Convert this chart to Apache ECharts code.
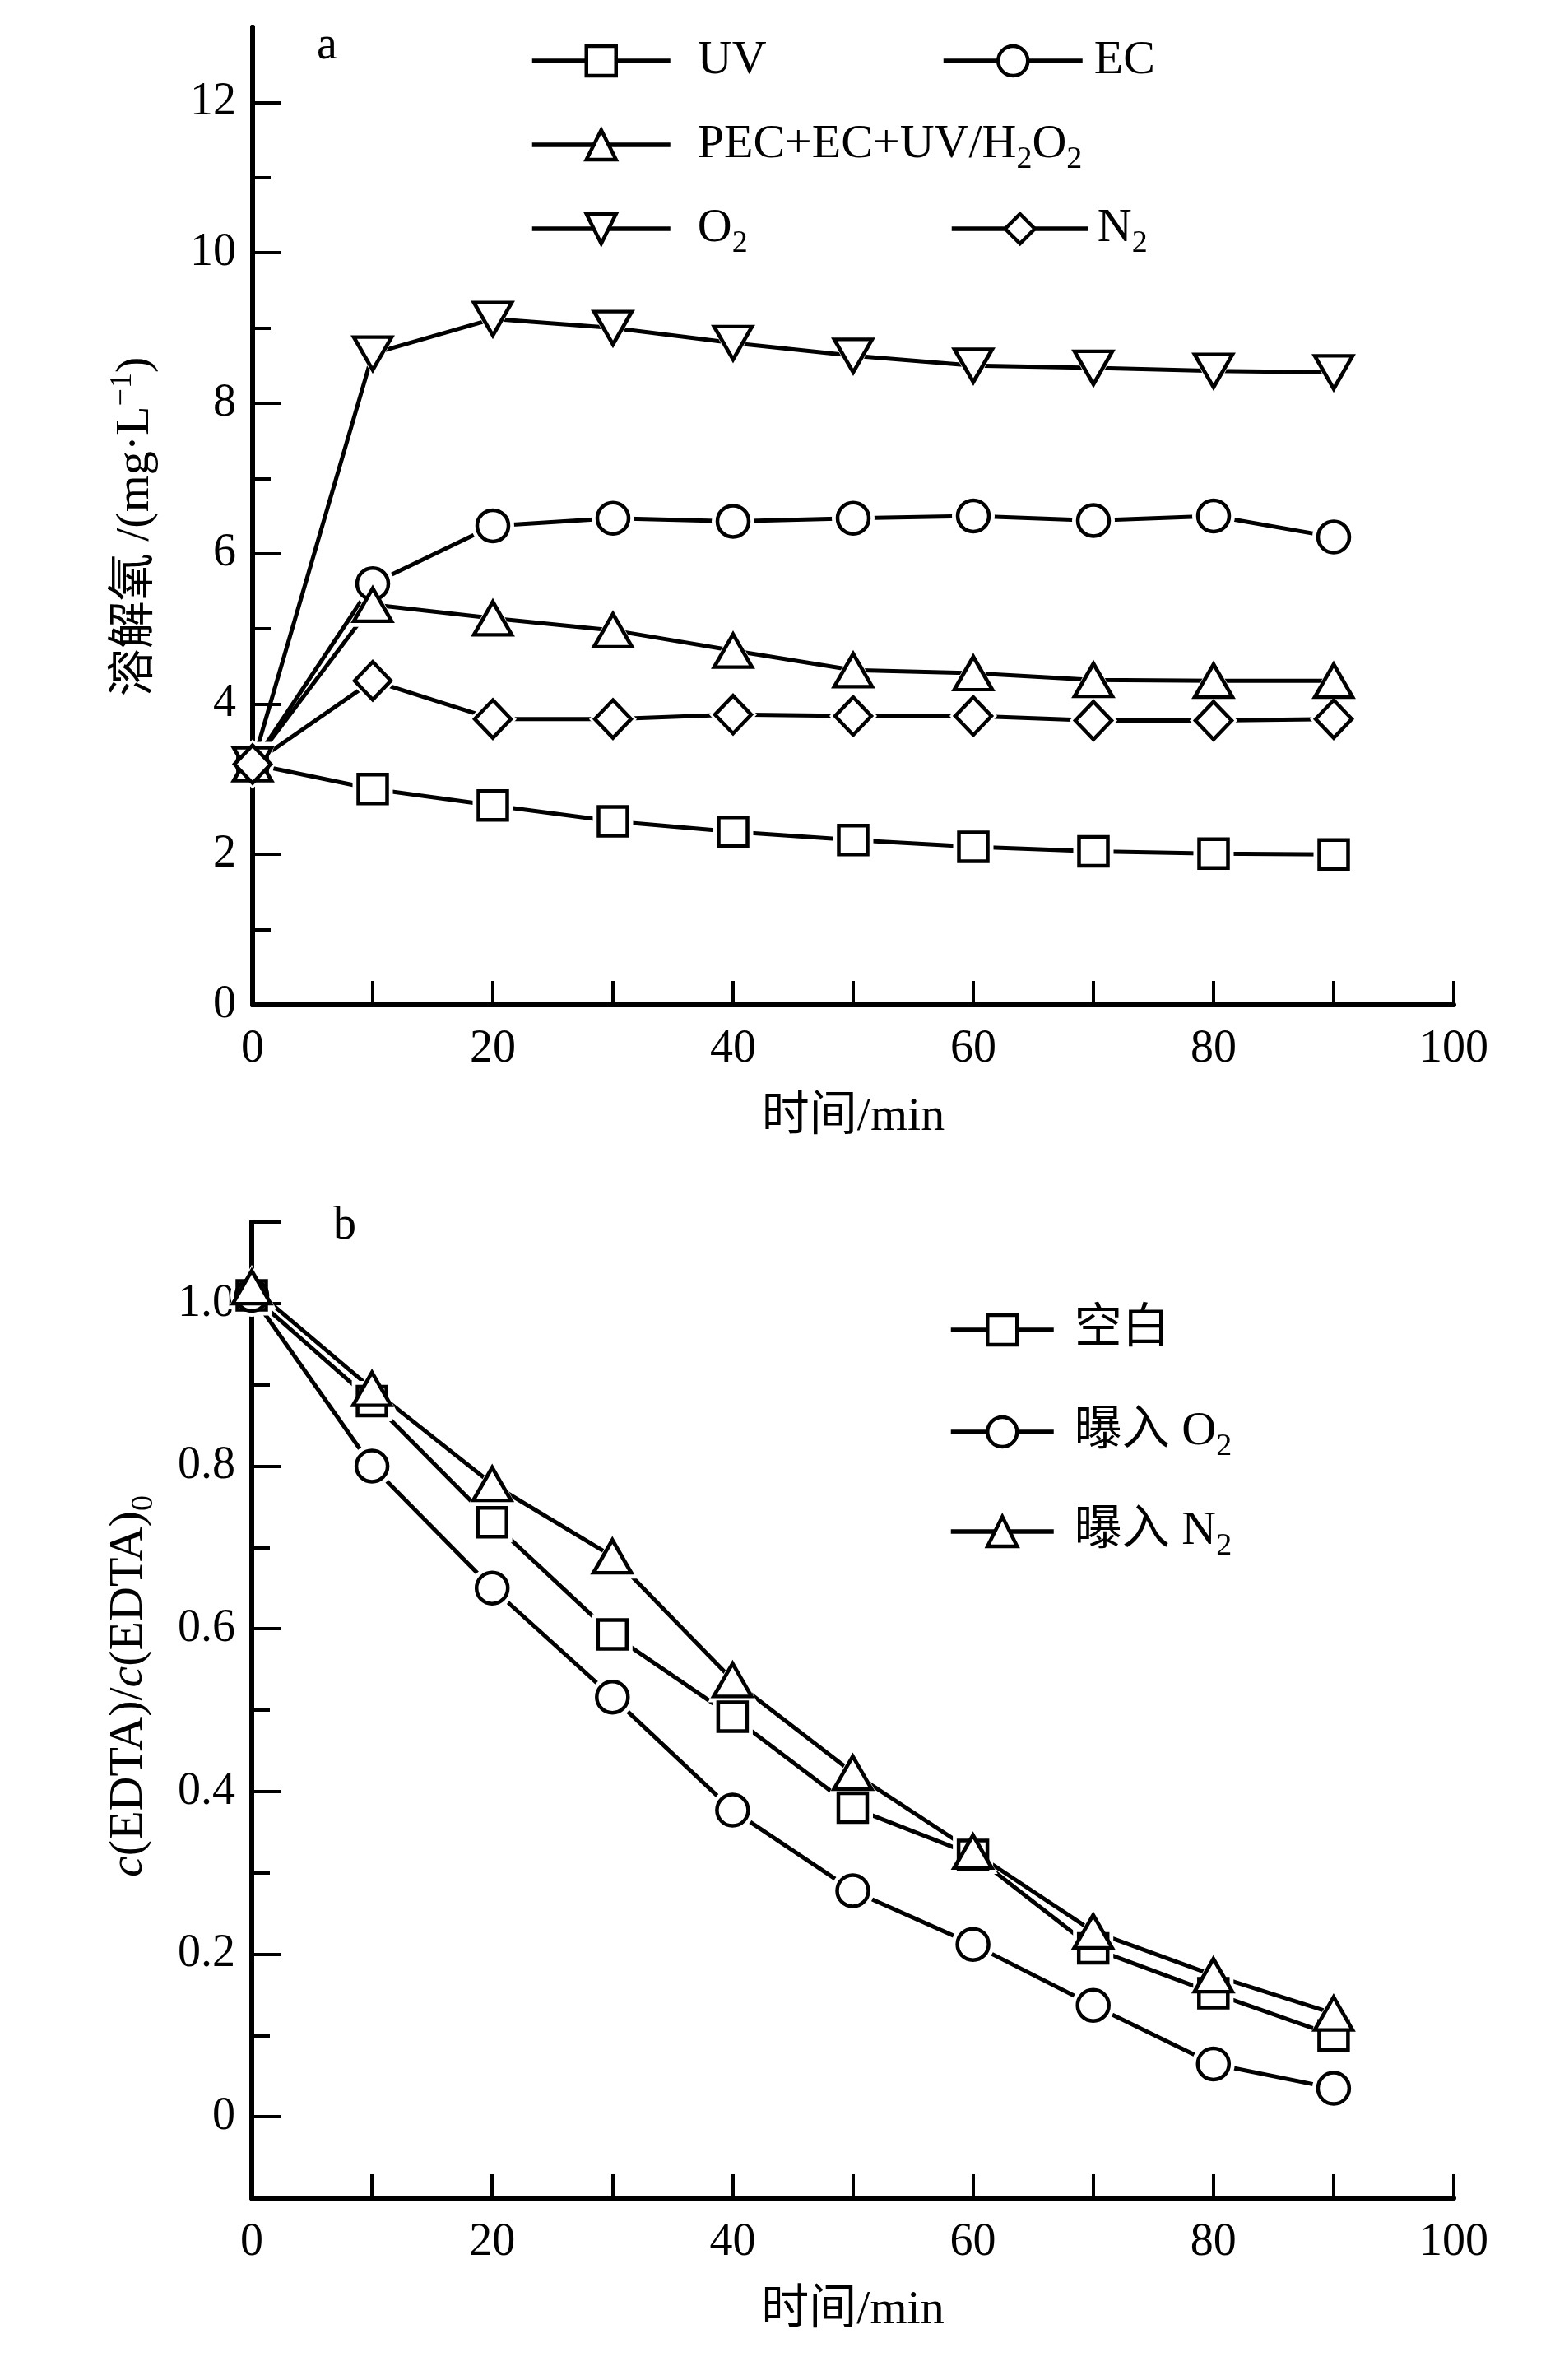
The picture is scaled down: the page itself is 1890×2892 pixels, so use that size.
<!DOCTYPE html>
<html>
<head>
<meta charset="utf-8">
<script src="https://cdn.jsdelivr.net/npm/echarts@6/dist/echarts.min.js"></script>
<style>
  html, body { margin: 0; padding: 0; background: #fff; }
  #chart { width: 1890px; height: 2892px; }
</style>
</head>
<body>
<div id="chart"></div>
<script>
// 时间 (min)
const xValues = [0, 10, 20, 30, 40, 50, 60, 70, 80, 90];

// 图 a 溶解氧 mg/L
const doUV  = [3.2, 2.87, 2.65, 2.44, 2.30, 2.19, 2.10, 2.04, 2.01, 2.00];
const doEC  = [3.2, 5.60, 6.37, 6.47, 6.43, 6.47, 6.50, 6.44, 6.50, 6.22];
const doPEC = [3.2, 5.32, 5.14, 4.98, 4.71, 4.45, 4.41, 4.32, 4.31, 4.31];
const doO2  = [3.2, 8.66, 9.12, 9.00, 8.80, 8.63, 8.50, 8.47, 8.43, 8.41];
const doN2  = [3.2, 4.31, 3.80, 3.80, 3.86, 3.84, 3.84, 3.78, 3.78, 3.80];

// 图 b c(EDTA)/c(EDTA)0
const edtaBlank = [1.01, 0.880, 0.731, 0.593, 0.492, 0.380, 0.322, 0.207, 0.152, 0.100];
const edtaO2    = [1.01, 0.800, 0.650, 0.516, 0.377, 0.278, 0.212, 0.137, 0.065, 0.035];
const edtaN2    = [1.02, 0.895, 0.778, 0.689, 0.537, 0.423, 0.326, 0.228, 0.174, 0.127];

// 刻度
const xTicks = [0, 10, 20, 30, 40, 50, 60, 70, 80, 90, 100];
const xLabels = [0, 20, 40, 60, 80, 100];
const yTicksA = [0, 2, 4, 6, 8, 10, 12];
const yMinorA = [1, 3, 5, 7, 9, 11];
const yLabelsB = [0, 0.2, 0.4, 0.6, 0.8, 1.0];
const yTicksB = [0, 0.2, 0.4, 0.6, 0.8, 1.0, 1.1];
const yMinorB = [0.1, 0.3, 0.5, 0.7, 0.9];

const FONT = "'Liberation Serif', 'Times New Roman', 'Noto Sans CJK SC', serif";
const rich = {
  sub: { fontFamily: FONT, fontSize: 38, color: '#000', padding: [36, 0, 0, 0] },
  sup: { fontFamily: FONT, fontSize: 38, color: '#000', padding: [0, 0, 32, 0] },
  i:   { fontFamily: FONT, fontSize: 58, color: '#000', fontStyle: 'italic' }
};

const SYM = {
  square:  { symbol: 'rect', size: 35 },
  circle:  { symbol: 'circle', size: 38 },
  up:      { symbol: 'triangle', size: [46, 40] },
  down:    { symbol: 'path://M0,0L20,0L10,17Z', size: [46, 40] },
  diamond: { symbol: 'diamond', size: [44, 46] }
};

function grow(s) {
  return Array.isArray(s) ? [s[0] + 14, s[1] + 14] : s + 14;
}

// 每条曲线: 线 + 白色留白 + 标记
function makeSeries(name, vals, sym, gi) {
  const data = xValues.map((x, i) => [x, vals[i]]);
  const base = { type: 'line', xAxisIndex: gi, yAxisIndex: gi * 2, data: data, symbol: sym.symbol, animation: false };
  return [
    Object.assign({}, base, { name: name, symbolSize: sym.size, z: 2,
      lineStyle: { color: '#000', width: 5 },
      itemStyle: { color: '#fff', borderColor: '#000', borderWidth: 4.5 } }),
    Object.assign({}, base, { name: name + ' halo', symbolSize: grow(sym.size), z: 3, silent: true,
      lineStyle: { width: 0, opacity: 0 },
      itemStyle: { color: '#fff', borderWidth: 0 } }),
    Object.assign({}, base, { name: name + ' mark', symbolSize: sym.size, z: 4, silent: true,
      lineStyle: { width: 0, opacity: 0 },
      itemStyle: { color: '#fff', borderColor: '#000', borderWidth: 4.5 } })
  ];
}

function fmtName(name) {
  return name.replace(/([A-Z])2/g, '$1{sub|2}');
}

function legendItem(name, left, top, itemWidth, gap) {
  return {
    data: [name], left: left, top: top, padding: 0,
    itemWidth: itemWidth, itemHeight: 45, selectedMode: false,
    formatter: fmtName,
    itemStyle: { color: '#fff', borderColor: '#000', borderWidth: 4.5 },
    lineStyle: { color: '#000', width: 5.5 },
    textStyle: { fontFamily: FONT, fontSize: 58, color: '#000', padding: [0, 0, 0, gap], rich: rich }
  };
}

function xAxisOpt(gi) {
  return {
    type: 'value', gridIndex: gi, min: 0, max: 100,
    name: '时间/min', nameLocation: 'middle', nameGap: 108,
    nameTextStyle: { fontFamily: FONT, fontSize: 58, color: '#000' },
    axisLine: { onZero: false, lineStyle: { color: '#000', width: 6 } },
    axisTick: { inside: true, length: 29, customValues: xTicks, lineStyle: { color: '#000', width: 4 } },
    axisLabel: { customValues: xLabels, margin: 26, fontFamily: FONT, fontSize: 56, color: '#000' },
    splitLine: { show: false }
  };
}

function minorAxis(gi, min, max, ticks) {
  return {
    type: 'value', gridIndex: gi, min: min, max: max, position: 'left',
    axisLine: { show: true, onZero: false, lineStyle: { color: '#000', width: 6 } },
    axisTick: { inside: true, length: 22, customValues: ticks, lineStyle: { color: '#000', width: 4 } },
    axisLabel: { show: false },
    splitLine: { show: false }
  };
}

const chart = echarts.init(document.getElementById('chart'));

const option = {
  backgroundColor: '#fff',
  animation: false,
  grid: [
    { left: 307, top: 33, width: 1460, height: 1188 },
    { left: 306, top: 1485, width: 1461, height: 1186 }
  ],
  xAxis: [xAxisOpt(0), xAxisOpt(1)],
  yAxis: [
    {
      type: 'value', gridIndex: 0, min: 0, max: 13, position: 'left',
      name: '溶解氧 /(mg\u00b7L{sup|\u22121})', nameLocation: 'middle', nameGap: 107,
      nameTextStyle: { fontFamily: FONT, fontSize: 58, color: '#000', rich: rich, padding: [0, 26, 0, 0] },
      axisLine: { onZero: false, lineStyle: { color: '#000', width: 6 } },
      axisTick: { inside: true, length: 34, customValues: yTicksA, lineStyle: { color: '#000', width: 4 } },
      axisLabel: { customValues: yTicksA, margin: 20, fontFamily: FONT, fontSize: 56, color: '#000' },
      splitLine: { show: false }
    },
    minorAxis(0, 0, 13, yMinorA),
    {
      type: 'value', gridIndex: 1, min: -0.1, max: 1.1, position: 'left',
      name: '{i|c}(EDTA)/{i|c}(EDTA){sub|0}', nameLocation: 'middle', nameGap: 112,
      nameTextStyle: { fontFamily: FONT, fontSize: 58, color: '#000', rich: rich, padding: [0, 0, 0, 58] },
      axisLine: { onZero: false, lineStyle: { color: '#000', width: 6 } },
      axisTick: { inside: true, length: 35, customValues: yTicksB, lineStyle: { color: '#000', width: 4 } },
      axisLabel: {
        customValues: yLabelsB, margin: 20, fontFamily: FONT, fontSize: 56, color: '#000',
        formatter: v => (v === 0 ? '0' : v.toFixed(1))
      },
      splitLine: { show: false }
    },
    minorAxis(1, -0.1, 1.1, yMinorB)
  ],
  legend: [
    legendItem('UV', 644, 45, 168, 28),
    legendItem('EC', 1144, 45, 169, 9),
    legendItem('PEC+EC+UV/H2O2', 644, 147, 168, 28),
    legendItem('O2', 644, 249, 168, 28),
    legendItem('N2', 1154, 249, 166, 6),
    legendItem('空白', 1153, 1587, 125, 20),
    legendItem('曝入 O2', 1153, 1711, 125, 20),
    legendItem('曝入 N2', 1153, 1832, 125, 20)
  ],
  graphic: [
    { type: 'text', left: 385, top: 28, style: { text: 'a', fontFamily: FONT, fontSize: 56, fill: '#000' } },
    { type: 'text', left: 405, top: 1462, style: { text: 'b', fontFamily: FONT, fontSize: 56, fill: '#000' } }
  ],
  series: [].concat(
    makeSeries('UV', doUV, SYM.square, 0),
    makeSeries('EC', doEC, SYM.circle, 0),
    makeSeries('PEC+EC+UV/H2O2', doPEC, SYM.up, 0),
    makeSeries('O2', doO2, SYM.down, 0),
    makeSeries('N2', doN2, SYM.diamond, 0),
    makeSeries('空白', edtaBlank, SYM.square, 1),
    makeSeries('曝入 O2', edtaO2, SYM.circle, 1),
    makeSeries('曝入 N2', edtaN2, SYM.up, 1)
  )
};

chart.setOption(option);

window.onresize = function () {
  chart.resize();
};
</script>
</body>
</html>
